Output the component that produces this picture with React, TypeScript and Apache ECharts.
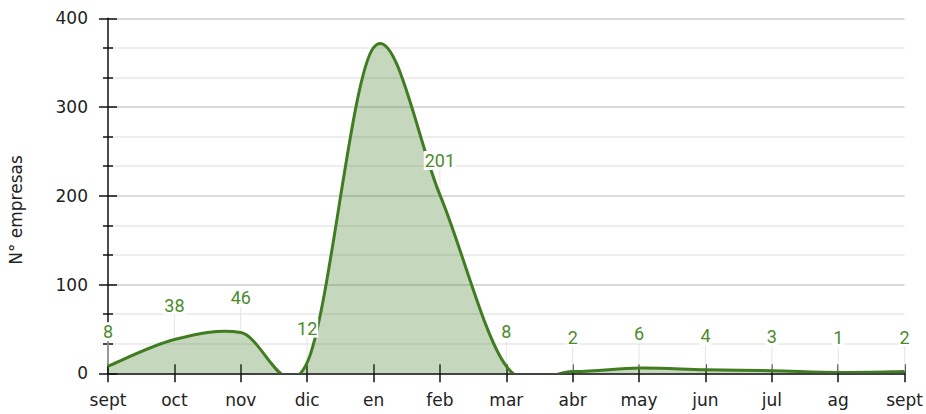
import React, { useEffect, useRef } from "react";
import * as echarts from "echarts";

const months = ["sept", "oct", "nov", "dic", "en", "feb", "mar", "abr", "may", "jun", "jul", "ag", "sept"];
const values = [8, 38, 46, 12, 367, 201, 8, 2, 6, 4, 3, 1, 2];
const yMin = 0;
const yMax = 400;
const yInterval = 100;
const yName = "N° empresas";

const LINE = "#407c22";
const FILL = "rgba(64,124,34,0.30)";
const LABEL = "#4b8b2b";
const FONT = "Roboto";
const AXIS_FONT = "DejaVu Sans";

export default function App() {
  const ref = useRef<HTMLDivElement>(null);

  useEffect(() => {
    document.body.style.margin = "0";
    const chart = echarts.init(ref.current!, null, { renderer: "svg" });

    const renderItem = (params: any, api: any) => {
      const i = params.dataIndex;
      const n = values.length;
      const pts = values.map((v, k) => api.coord([k, v]));
      const base = api.coord([0, 0])[1];
      const cs = params.coordSys;
      const children: any[] = [];
      if (i === 0) {
        let d = `M${pts[0][0]},${pts[0][1]}`;
        for (let k = 0; k < n - 1; k++) {
          const p0 = pts[Math.max(k - 1, 0)];
          const p1 = pts[k];
          const p2 = pts[k + 1];
          const p3 = pts[Math.min(k + 2, n - 1)];
          const c1x = p1[0] + (p2[0] - p0[0]) / 6;
          const c1y = p1[1] + (p2[1] - p0[1]) / 6;
          const c2x = p2[0] - (p3[0] - p1[0]) / 6;
          const c2y = p2[1] - (p3[1] - p1[1]) / 6;
          d += ` C${c1x},${c1y} ${c2x},${c2y} ${p2[0]},${p2[1]}`;
        }
        const area = d + ` L${pts[n - 1][0]},${base} L${pts[0][0]},${base} Z`;
        children.push({
          type: "group",
          clipPath: { type: "rect", shape: { x: cs.x, y: cs.y, width: cs.width, height: cs.height } },
          children: [
            { type: "path", shape: { pathData: area }, style: { fill: FILL, stroke: null }, z2: 1 },
            { type: "path", shape: { pathData: d }, style: { fill: null, stroke: LINE, lineWidth: 3 }, z2: 2 },
          ],
        });
      }
      const x = pts[i][0];
      const y = pts[i][1];
      const ly = y - 34.5;
      if (ly - 9 >= cs.y) {
        children.push({
          type: "line",
          shape: { x1: x, y1: y, x2: x, y2: ly + 7 },
          style: { stroke: "#e4e4e4", lineWidth: 1 },
          z2: 0,
        });
        children.push({
          type: "text",
          x,
          y: ly,
          style: {
            text: String(values[i]),
            fill: LABEL,
            fontSize: 18,
            fontFamily: FONT,
            align: "center",
            verticalAlign: "middle",
            backgroundColor: "#fff",
            padding: [1, 1, 0, 1],
          },
          z2: 3,
        });
      }
      return { type: "group", children };
    };

    const axisLabelStyle = { color: "#222", fontSize: 17, fontFamily: AXIS_FONT };

    chart.setOption({
      animation: false,
      grid: { left: 108, right: 20.5, top: 18.3, bottom: 40.7, containLabel: false },
      graphic: [
        {
          type: "text",
          x: 16,
          y: 210,
          rotation: Math.PI / 2,
          style: {
            text: yName,
            fill: "#222",
            fontSize: 17,
            fontFamily: AXIS_FONT,
            align: "center",
            verticalAlign: "middle",
          },
        },
      ],
      xAxis: [
        {
          type: "category",
          data: months,
          boundaryGap: false,
          axisLine: { show: true, lineStyle: { color: "#111", width: 1.5 } },
          axisTick: { show: true, inside: false, length: 9, lineStyle: { color: "#111", width: 1.5 } },
          axisLabel: { ...axisLabelStyle, margin: 18, interval: 0 },
          splitLine: { show: false },
        },
        {
          type: "category",
          data: months,
          boundaryGap: false,
          position: "bottom",
          axisLine: { show: false },
          axisTick: { show: true, inside: true, length: 9, lineStyle: { color: "#111", width: 1.5 } },
          axisLabel: { show: false },
          splitLine: { show: false },
        },
      ],
      yAxis: [
        {
          type: "value",
          min: yMin,
          max: yMax,
          interval: yInterval,
          axisLine: { show: true, lineStyle: { color: "#111", width: 1.5 } },
          axisTick: { show: true, inside: false, length: 9, lineStyle: { color: "#111", width: 1.5 } },
          minorTick: { show: true, splitNumber: 3, length: 5, lineStyle: { color: "#111", width: 1.5 } },
          axisLabel: { ...axisLabelStyle, margin: 20 },
          splitLine: { show: true, lineStyle: { color: "#cfcfcf", width: 1.5 } },
          minorSplitLine: { show: true, lineStyle: { color: "#e8e8e8", width: 1.5 } },
        },
        {
          type: "value",
          min: yMin,
          max: yMax,
          interval: yInterval,
          position: "left",
          axisLine: { show: false },
          axisTick: { show: true, inside: true, length: 9, lineStyle: { color: "#111", width: 1.5 } },
          minorTick: { show: true, splitNumber: 3, length: 5, lineStyle: { color: "#111", width: 1.5 } },
          axisLabel: { show: false },
          splitLine: { show: false },
        },
      ],
      series: [
        {
          type: "custom",
          coordinateSystem: "cartesian2d",
          xAxisIndex: 0,
          yAxisIndex: 0,
          renderItem,
          data: values.map((v, k) => [k, v]),
          encode: { x: 0, y: 1 },
          silent: true,
          z: 2,
        },
      ],
    });

    return () => chart.dispose();
  }, []);

  return <div ref={ref} style={{ width: 926, height: 414 }} />;
}
